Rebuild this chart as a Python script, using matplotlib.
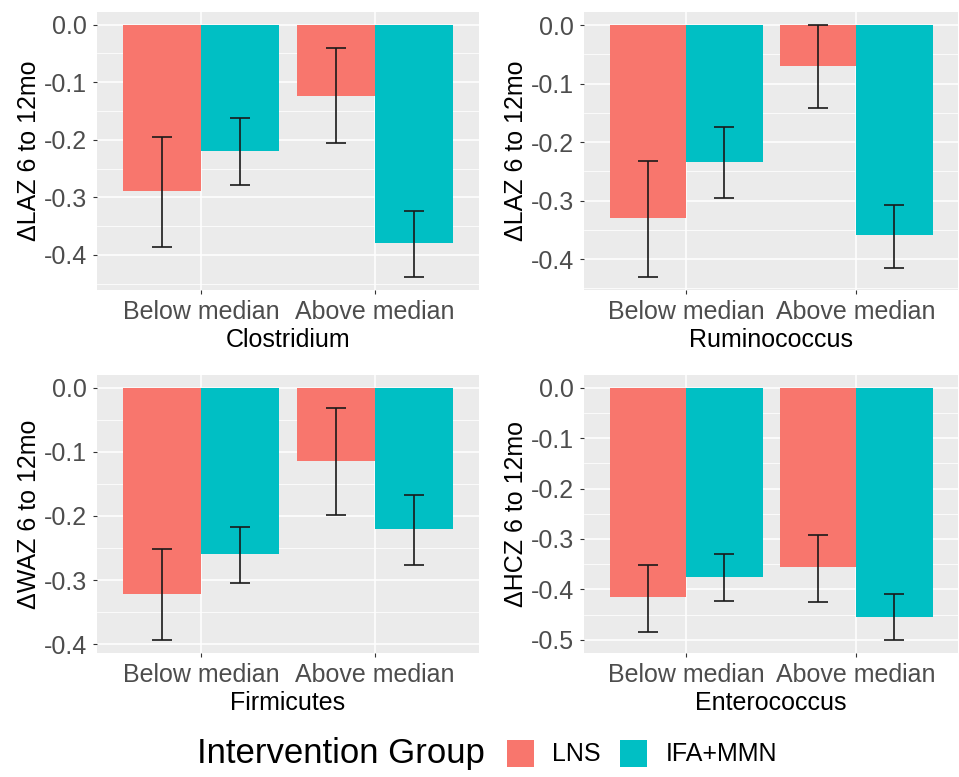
import matplotlib
matplotlib.use('Agg')
import numpy as np
from matplotlib import pyplot as plt
from matplotlib.patches import Rectangle

plt.rcParams['font.family'] = ['Liberation Sans', 'DejaVu Sans']
plt.rcParams['axes.unicode_minus'] = False

# data
groups = ['Below median', 'Above median']
taxa = ['Clostridium', 'Ruminococcus', 'Firmicutes', 'Enterococcus']
ylabels = ['ΔLAZ 6 to 12mo', 'ΔLAZ 6 to 12mo', 'ΔWAZ 6 to 12mo', 'ΔHCZ 6 to 12mo']
series = ['LNS', 'IFA+MMN']

lns_mean = [[-0.289, -0.124], [-0.330, -0.069], [-0.321, -0.114], [-0.415, -0.356]]
lns_lo = [[-0.387, -0.205], [-0.431, -0.141], [-0.394, -0.199], [-0.484, -0.425]]
lns_hi = [[-0.195, -0.041], [-0.232, 0.001], [-0.252, -0.031], [-0.351, -0.292]]

ifa_mean = [[-0.220, -0.379], [-0.233, -0.359], [-0.260, -0.221], [-0.375, -0.454]]
ifa_lo = [[-0.279, -0.439], [-0.296, -0.415], [-0.304, -0.276], [-0.422, -0.501]]
ifa_hi = [[-0.163, -0.324], [-0.174, -0.308], [-0.218, -0.168], [-0.330, -0.409]]

colors = ['#F8766D', '#00BFC4']

fig = plt.figure(figsize=(9.59, 7.77), dpi=100)

# axes rectangles in figure fraction
W, H = 959.0, 777.0
boxes = [(97, 12, 479, 290), (584, 12, 958, 290),
         (97, 375, 479, 653), (584, 375, 958, 653)]

x = np.arange(len(groups)) + 1.0
bw = 0.45

for i, (l, t, r, b) in enumerate(boxes):
    ax = fig.add_axes([l / W, 1 - b / H, (r - l) / W, (b - t) / H])
    ax.set_facecolor('#EBEBEB')
    for s in ax.spines.values():
        s.set_visible(False)

    means = [lns_mean[i], ifa_mean[i]]
    los = [lns_lo[i], ifa_lo[i]]
    his = [lns_hi[i], ifa_hi[i]]
    for k in range(2):
        xs = x + (k - 0.5) * bw
        m = np.array(means[k])
        ax.bar(xs, m, width=bw, color=colors[k], zorder=2)
        yerr = [np.array(his[k]) - m, m - np.array(los[k])]
        # errorbar drawn from lo to hi
        ax.errorbar(xs, m, yerr=[m - np.array(los[k]), np.array(his[k]) - m],
                    fmt='none', ecolor='#1a1a1a', elinewidth=1.2,
                    capsize=7.5, capthick=1.2, zorder=3)

    ymin = min(min(lns_lo[i]), min(ifa_lo[i]), 0)
    ymax = max(max(lns_hi[i]), max(ifa_hi[i]), 0)
    pad = 0.05 * (ymax - ymin)
    ax.set_ylim(ymin - pad, ymax + pad)
    ax.set_xlim(0.4, 2.6)

    yt = np.arange(0, ymin - pad - 1e-9, -0.1)
    ax.set_yticks(yt)
    ax.set_yticklabels(['%.1f' % v for v in yt])
    ax.set_yticks(np.arange(-0.05, ymin - pad, -0.1), minor=True)
    ax.set_xticks(x)
    ax.set_xticklabels(groups)

    ax.grid(True, which='major', color='white', linewidth=1.1, zorder=0)
    ax.grid(True, which='minor', axis='y', color='white', linewidth=0.55, zorder=0)
    ax.set_axisbelow(True)
    ax.tick_params(which='major', length=3, width=0.8, color='#333333',
                   labelsize=18, labelcolor='#4D4D4D', pad=4)
    ax.tick_params(which='minor', length=0)

    ax.set_xlabel(taxa[i], fontsize=18, color='black', labelpad=3)
    ax.set_ylabel(ylabels[i], fontsize=18, color='black', labelpad=2)

# legend at the bottom
fig.text(197 / W, 1 - 753 / H, 'Intervention Group', fontsize=25,
         va='center', ha='left')
key_x = [507, 620]
text_x = [552, 666]
for k in range(2):
    fig.patches.append(Rectangle((key_x[k] / W, 1 - 767 / H), 27 / W, 27 / H,
                                 transform=fig.transFigure, facecolor=colors[k],
                                 edgecolor='none'))
    fig.text(text_x[k] / W, 1 - 754 / H, series[k], fontsize=18,
             va='center', ha='left')

fig.savefig('out.png', dpi=100)
